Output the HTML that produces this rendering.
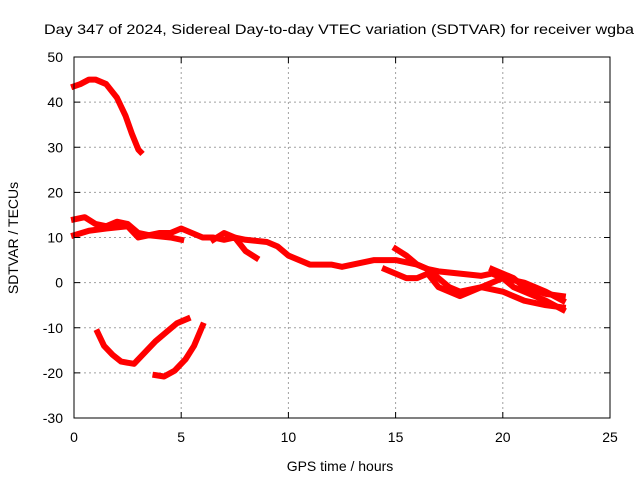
<!DOCTYPE html>
<html><head><meta charset="utf-8"><style>
body{margin:0;background:#fff}
svg{display:block;font-family:"Liberation Sans",sans-serif}
</style></head><body>
<svg id="chart" width="640" height="480">
<rect width="640" height="480" fill="#fff"/>
<text x="339" y="34" font-size="14" textLength="590" lengthAdjust="spacingAndGlyphs" text-anchor="middle">Day 347 of 2024, Sidereal Day-to-day VTEC variation (SDTVAR) for receiver wgba</text>
<g id="grid"></g><g id="series"></g>
<rect x="74" y="57" width="536" height="361" fill="none" stroke="#000" stroke-width="1"/>
<g id="ticks"></g>
<text x="340" y="471" font-size="14" text-anchor="middle">GPS time / hours</text>
<text transform="translate(18,238) rotate(-90)" font-size="14" text-anchor="middle">SDTVAR / TECUs</text>
</svg>
<script>
const xTicks=[0,5,10,15,20,25];
const yTicks=[-30,-20,-10,0,10,20,30,40,50];
const seriesA=[[0,43.5],[0.3,44],[0.7,45],[1.0,45],[1.5,44],[2.0,41],[2.4,37],[2.7,33],[3.0,29.5],[3.1,29]];
const seriesB=[[1.1,-11],[1.4,-14],[1.8,-16],[2.2,-17.5],[2.8,-18],[3.2,-16],[3.8,-13],[4.3,-11],[4.8,-9],[5.3,-8]];
const seriesC=[[3.8,-20.5],[4.2,-20.8],[4.7,-19.5],[5.2,-17],[5.6,-14],[6.0,-9.5]];
const seriesD1=[[0,14],[0.5,14.5],[1,13],[1.5,12.5],[2,13.5],[2.5,13],[3,11],[3.5,10.5],[4,11],[4.5,11],[5,12],[5.5,11],[6,10],[6.5,10],[7,9.5],[7.5,10],[8,9.5],[9,9],[9.5,8],[10,6],[10.5,5],[11,4],[12,4],[12.5,3.5],[13,4],[14,5],[14.5,5],[15,5],[16,4],[16.5,3],[17,2.5],[18,2],[19,1.5],[19.5,2],[20,1],[20.5,0.5],[21,0],[22,-2],[22.8,-4]];
const seriesD2=[[0,10.5],[0.7,11.5],[1.5,12],[2.5,12.5],[3,10],[3.5,10.5],[4.5,10],[5,9.5]];
const seriesD3=[[6.5,9.5],[7,11],[7.5,10],[8,7],[8.5,5.5]];
const seriesD4=[[14.5,3],[15,2],[15.5,1],[16,1],[16.5,2],[17,-1],[17.5,-2],[18,-3],[18.5,-2],[19,-1],[19.5,0],[20,1],[20.5,-1],[21,-2],[21.5,-3],[22,-4],[22.8,-6]];
const seriesD5=[[15,7.5],[15.5,6],[16,4],[16.5,3],[17,1],[17.5,-1],[18,-2],[19,-1],[20,-2],[21,-4],[22,-5],[22.8,-5.5]];
const seriesD6=[[19.5,3],[20,2],[20.5,1],[21,-1],[22,-2.5],[22.8,-3]];
const allSeries=[seriesA,seriesB,seriesC,seriesD1,seriesD2,seriesD3,seriesD4,seriesD5,seriesD6];
const X=h=>74+h*(536/25), Y=v=>418-(v+30)*(361/80);
const NS='http://www.w3.org/2000/svg';
const grid=document.getElementById('grid'),ticks=document.getElementById('ticks'),ser=document.getElementById('series');
function mk(tag,a,p){const e=document.createElementNS(NS,tag);for(const k in a)e.setAttribute(k,a[k]);p.appendChild(e);return e;}
xTicks.forEach(t=>{const x=X(t);
 if(t>0&&t<25){const g=mk('line',{x1:x,x2:x,y1:57,y2:418,stroke:'#a0a0a0','stroke-dasharray':'2,3'},grid);
 
 }
 mk('line',{x1:x,x2:x,y1:418,y2:412,stroke:'#000'},ticks);mk('line',{x1:x,x2:x,y1:57,y2:63,stroke:'#000'},ticks);
 const l=mk('text',{x:x,y:442,'font-size':14,'text-anchor':'middle'},ticks);l.textContent=t;
 
 });
yTicks.forEach(t=>{const y=Y(t);
 if(t>-30&&t<50){const g=mk('line',{x1:74,x2:610,y1:y,y2:y,stroke:'#a0a0a0','stroke-dasharray':'2,3'},grid);
 
 }
 mk('line',{x1:74,x2:80,y1:y,y2:y,stroke:'#000'},ticks);mk('line',{x1:610,x2:604,y1:y,y2:y,stroke:'#000'},ticks);
 const l=mk('text',{x:63,y:y+5,'font-size':14,'text-anchor':'end'},ticks);l.textContent=t;
 
 });
allSeries.forEach(s=>{const p=mk('polyline',{points:s.map(d=>X(d[0])+','+Y(d[1])).join(' '),fill:'none',stroke:'#ff0000','stroke-width':6,'stroke-linejoin':'round','stroke-linecap':'square'},ser);
 
 });
</script>
</body></html>
